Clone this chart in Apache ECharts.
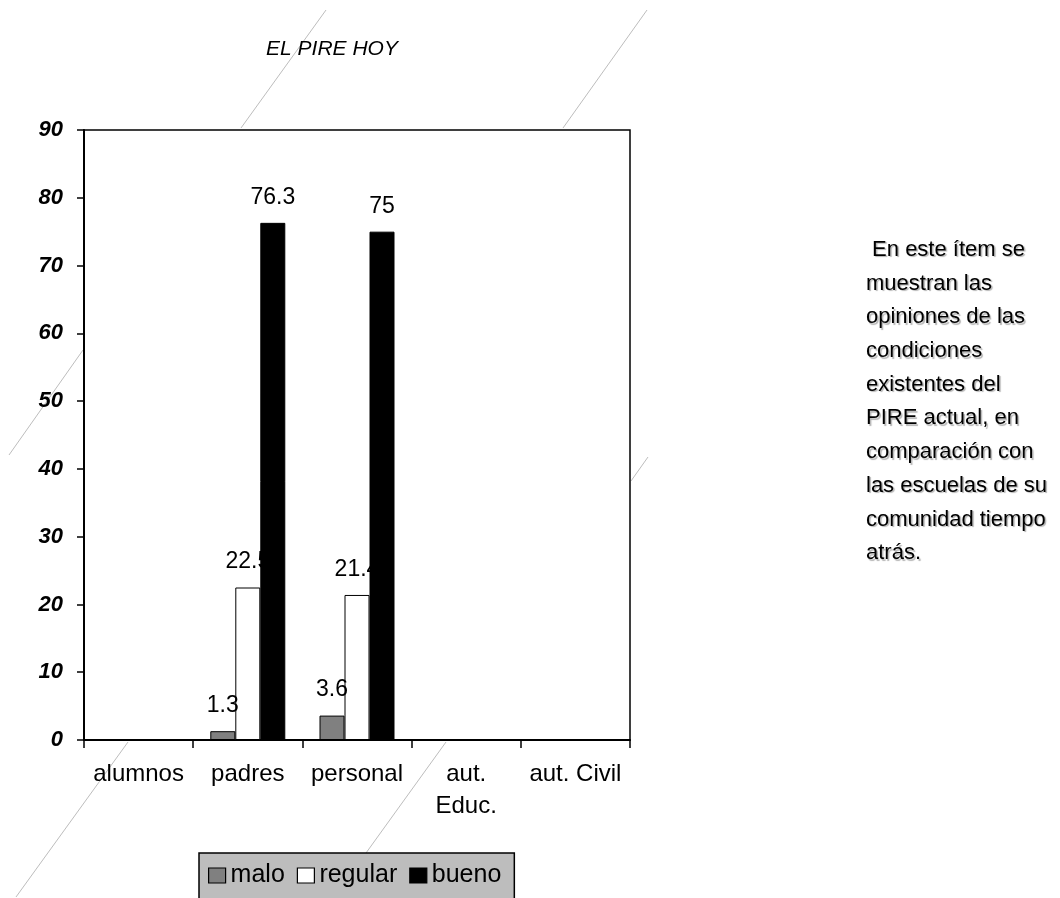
<!DOCTYPE html>
<html>
<head>
<meta charset="utf-8">
<script src="https://cdn.jsdelivr.net/npm/echarts@6/dist/echarts.min.js"></script>
<style>
html,body{margin:0;padding:0;background:#fff;}
#c{width:1060px;height:898px;}
</style>
</head>
<body>
<div id="c"></div>
<script>
const categories = ['alumnos', 'padres', 'personal', 'aut.\nEduc.', 'aut. Civil'];
const malo = [0, 1.3, 3.6, 0, 0];
const regular = [0, 22.5, 21.4, 0, 0];
const bueno = [0, 76.3, 75, 0, 0];
const seriesNames = ['malo', 'regular', 'bueno'];
const yMin = 0, yMax = 90, yStep = 10;
const titleText = 'EL PIRE HOY';
const sideText = [' En este ítem se', 'muestran las', 'opiniones de las', 'condiciones', 'existentes del', 'PIRE actual, en', 'comparación con', 'las escuelas de su', 'comunidad tiempo', 'atrás.'];

const FONT = '"Liberation Sans", Arial, sans-serif';
const chart = echarts.init(document.getElementById('c'), null, {renderer: 'canvas'});

const lab = {
  show: true, position: 'top', distance: 14, color: '#000', fontSize: 23, fontFamily: FONT,
  formatter: p => (p.value === 0 ? '' : String(p.value))
};

const deco = [
  [[326, 10], [241, 128]],
  [[83, 350], [9, 455]],
  [[647, 10], [563, 128]],
  [[128, 742], [16, 897]],
  [[648, 457], [631, 481]],
  [[446, 742], [366, 853]]
];

const graphics = deco.map(s => ({
  type: 'line', z: -10, silent: true,
  shape: {x1: s[0][0], y1: s[0][1], x2: s[1][0], y2: s[1][1]},
  style: {stroke: '#bdbdbd', lineWidth: 1}
}));
graphics.push({
  type: 'text', left: 866, top: 233, silent: true,
  style: {
    text: sideText.join('\n'), font: '22px ' + FONT, fill: '#000', lineHeight: 33.7,
    textShadowColor: 'rgba(0,0,0,0.3)', textShadowOffsetX: 1.5, textShadowOffsetY: 1.5, textShadowBlur: 1
  }
});

chart.setOption({
  animation: false,
  backgroundColor: '#fff',
  title: {
    text: titleText, left: 327, top: 34, textAlign: 'center',
    textStyle: {fontSize: 21, fontStyle: 'italic', fontWeight: 'normal', color: '#000', fontFamily: FONT}
  },
  graphic: graphics,
  grid: {
    left: 84, right: 430, top: 130, bottom: 158, containLabel: false,
    show: true, backgroundColor: '#fff', borderColor: '#000', borderWidth: 1.5
  },
  legend: {
    data: seriesNames, left: 199, top: 853,
    backgroundColor: '#bdbdbd', borderColor: '#000', borderWidth: 1.5,
    padding: [10, 13, 20, 9], itemGap: 12, itemWidth: 17, itemHeight: 15,
    icon: 'rect',
    itemStyle: {borderColor: '#000', borderWidth: 1.2},
    textStyle: {fontSize: 25, color: '#000', fontFamily: FONT}
  },
  xAxis: {
    type: 'category', data: categories,
    axisLine: {lineStyle: {color: '#000', width: 2}},
    axisTick: {show: true, length: 8, lineStyle: {color: '#000', width: 1.5}},
    axisLabel: {color: '#000', fontSize: 24, fontFamily: FONT, margin: 18, lineHeight: 32, interval: 0},
    splitLine: {show: false}
  },
  yAxis: {
    type: 'value', min: yMin, max: yMax, interval: yStep,
    axisLine: {show: true, lineStyle: {color: '#000', width: 2}},
    axisTick: {show: true, length: 7, lineStyle: {color: '#000', width: 1.5}},
    axisLabel: {color: '#000', fontSize: 22, fontWeight: 'bold', fontStyle: 'italic', fontFamily: FONT, margin: 21},
    splitLine: {show: false}
  },
  series: [
    {name: 'malo', type: 'bar', data: malo, barWidth: 25, barGap: '0%', z: 5,
     itemStyle: {color: '#808080', borderColor: '#000', borderWidth: 1}, label: lab},
    {name: 'regular', type: 'bar', data: regular, barWidth: 25, barGap: '0%', z: 2,
     itemStyle: {color: '#ffffff', borderColor: '#000', borderWidth: 1}, label: lab},
    {name: 'bueno', type: 'bar', data: bueno, barWidth: 25, barGap: '0%', z: 3,
     itemStyle: {color: '#000000', borderColor: '#000', borderWidth: 1}, label: lab}
  ]
});
</script>
</body>
</html>
